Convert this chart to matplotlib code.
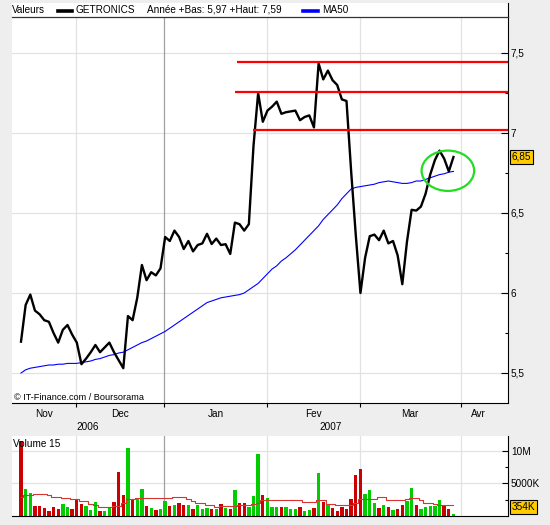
import matplotlib
matplotlib.use('Agg')
import matplotlib.pyplot as plt
from matplotlib.lines import Line2D
from matplotlib.patches import Ellipse
import numpy as np

plt.rcParams['font.family'] = ['Liberation Sans', 'DejaVu Sans']

# ---------------- data (daily closes, trading-day index) ----------------
price = [5.696, 5.925, 5.99, 5.89, 5.867, 5.83, 5.82, 5.75, 5.69, 5.77,
         5.80, 5.74, 5.69, 5.555, 5.59, 5.63, 5.675, 5.63, 5.66, 5.69,
         5.63, 5.58, 5.53, 5.856, 5.83, 5.97, 6.175, 6.08, 6.13, 6.11,
         6.154, 6.35, 6.325, 6.39, 6.35, 6.275, 6.325, 6.26, 6.30, 6.31,
         6.37, 6.306, 6.34, 6.30, 6.305, 6.244, 6.44, 6.43, 6.39, 6.43,
         6.92, 7.25, 7.07, 7.14, 7.165, 7.196, 7.12, 7.13, 7.135, 7.14,
         7.08, 7.10, 7.11, 7.035, 7.435, 7.335, 7.39, 7.33, 7.30, 7.21,
         7.20, 6.76, 6.36, 6.00, 6.22, 6.355, 6.365, 6.33, 6.39, 6.31,
         6.325, 6.235, 6.055, 6.32, 6.52, 6.515, 6.54, 6.62, 6.74, 6.83,
         6.89, 6.84, 6.76, 6.85]

ma50 = [5.50, 5.52, 5.53, 5.535, 5.54, 5.545, 5.55, 5.55, 5.555, 5.555,
        5.56, 5.56, 5.56, 5.565, 5.57, 5.575, 5.585, 5.59, 5.60, 5.61,
        5.615, 5.625, 5.63, 5.645, 5.66, 5.675, 5.69, 5.70, 5.715, 5.73,
        5.745, 5.76, 5.78, 5.80, 5.82, 5.84, 5.86, 5.88, 5.90, 5.92,
        5.94, 5.95, 5.96, 5.97, 5.975, 5.98, 5.985, 5.99, 6.00, 6.02,
        6.04, 6.06, 6.09, 6.12, 6.15, 6.17, 6.20, 6.22, 6.245, 6.27,
        6.30, 6.33, 6.36, 6.39, 6.42, 6.46, 6.49, 6.52, 6.55, 6.59,
        6.62, 6.65, 6.66, 6.665, 6.67, 6.675, 6.68, 6.69, 6.695, 6.70,
        6.695, 6.69, 6.685, 6.685, 6.69, 6.70, 6.70, 6.71, 6.72, 6.73,
        6.74, 6.745, 6.755, 6.76]

volume_m = [11.5, 4.13, 3.5, 1.53, 1.53, 1.18, 0.76, 1.38, 1.07, 1.83,
            1.43, 1.07, 2.6, 1.83, 1.53, 0.92, 2.14, 0.76, 0.76, 1.27,
            2.14, 6.78, 3.21, 10.45, 2.6, 2.75, 4.13, 1.53, 1.27, 0.92,
            1.07, 2.3, 1.53, 1.68, 2.0, 1.68, 1.68, 1.07, 1.68, 1.07,
            1.18, 1.07, 1.07, 1.83, 1.18, 1.07, 3.98, 2.0, 2.0, 1.38,
            3.06, 9.48, 3.21, 2.75, 1.38, 1.38, 1.38, 1.38, 1.07, 1.07,
            1.38, 0.76, 0.92, 1.22, 6.57, 2.14, 1.68, 1.22, 0.76, 1.38,
            1.07, 2.6, 6.27, 7.19, 3.37, 3.98, 2.0, 1.22, 1.68, 1.38,
            0.92, 1.07, 1.68, 2.3, 4.28, 1.68, 1.07, 1.38, 1.53, 1.53,
            2.45, 1.53, 1.07, 0.354]

volume_ma15_m = [2.95, 3.2, 3.2, 3.36, 3.36, 3.36, 3.2, 2.9, 2.9, 2.75,
                 2.75, 2.6, 2.6, 2.3, 2.3, 1.9, 1.68, 1.38, 1.38, 1.38,
                 1.53, 1.53, 2.0, 2.6, 2.6, 2.75, 2.75, 2.75, 2.75, 2.75,
                 2.75, 2.75, 2.75, 2.9, 2.9, 2.9, 2.6, 2.3, 2.0, 2.0,
                 1.68, 1.68, 1.38, 1.53, 1.53, 1.53, 1.53, 1.68, 1.68, 1.68,
                 1.83, 2.0, 2.4, 2.4, 2.4, 2.4, 2.4, 2.4, 2.4, 2.4,
                 2.4, 2.14, 2.14, 2.2, 2.4, 2.4, 1.83, 1.83, 1.68, 1.68,
                 1.68, 1.68, 2.0, 2.6, 2.6, 2.6, 2.6, 2.9, 2.9, 2.45,
                 2.45, 2.45, 2.45, 2.6, 2.75, 2.75, 2.45, 2.0, 2.0, 1.83,
                 1.68, 1.68, 1.68, 1.68]

month_edges = [11.8, 30.8, 52.8, 72.8, 94.7]
year_edge = 30.8
month_labels = ['Nov', 'Dec', 'Jan', 'Fev', 'Mar', 'Avr']
month_label_pos = [4.9, 21.3, 41.8, 62.8, 83.7, 98.4]
year_labels = ['2006', '2007']
year_label_pos = [14.4, 66.5]

price_ticks = [5.5, 6.0, 6.5, 7.0, 7.5]
price_tick_labels = ['5,5', '6', '6,5', '7', '7,5']
price_minor = [5.75, 6.25, 6.75, 7.25]
vol_ticks = [5, 10]
vol_tick_labels = ['5000K', '10M']
vol_minor = [2.5, 7.5]

resist_levels = [7.446, 7.258, 7.019]
resist_start = [46.4, 46.0, 49.9]
circle_center = (91.8, 6.764)
circle_size = (11.3, 0.252)

header_name = 'GETRONICS'
header_info = 'Année +Bas: 5,97 +Haut: 7,59'

# ---------------- layout helpers ----------------
W, H = 550, 525
def fx(px):
    return px / W
def fy(py):
    return 1 - py / H

BG = '#eeeeee'
GRID = '#e2e2e2'
YEARGRID = '#a0a0a0'
FS = 7.2

fig = plt.figure(figsize=(W / 100, H / 100), dpi=100, facecolor=BG)
x = np.arange(len(price))
xlim = (-1.935, 104.73)

# header
hax = fig.add_axes([fx(12), fy(17), fx(508) - fx(12), fy(3) - fy(17)])
hax.set_facecolor('white')
hax.set_xticks([]); hax.set_yticks([])
for s in ['left', 'top', 'bottom']:
    hax.spines[s].set_visible(False)
hax.spines['right'].set_color('black')
fig.text(fx(12), fy(10), 'Valeurs', va='center', ha='left', fontsize=FS)
fig.add_artist(Line2D([fx(58), fx(72)], [fy(10.5), fy(10.5)], lw=2.6, color='black'))
fig.text(fx(75), fy(10), header_name, va='center', ha='left', fontsize=FS)
fig.text(fx(147), fy(10), header_info, va='center', ha='left', fontsize=FS)
fig.add_artist(Line2D([fx(303), fx(318)], [fy(10.5), fy(10.5)], lw=2.6, color='#0000ff'))
fig.text(fx(322), fy(10), 'MA50', va='center', ha='left', fontsize=FS)

# main price axes
ax = fig.add_axes([fx(12), fy(403), fx(508) - fx(12), fy(17) - fy(403)])
ax.set_facecolor('white')
ax.set_xlim(*xlim)
ax.set_ylim(5.3125, 7.725)
for v in price_ticks:
    ax.axhline(v, color=GRID, lw=0.9, zorder=0)
for e in month_edges:
    ax.axvline(e, color=YEARGRID if e == year_edge else GRID, lw=0.9, zorder=0)

ax.plot(x, ma50, color='#0000ff', lw=0.8, zorder=2)
ax.plot(x, price, color='black', lw=1.7, zorder=3)
for lvl, st in zip(resist_levels, resist_start):
    ax.hlines(lvl, st, xlim[1], color='#ff0000', lw=1.6, zorder=4)
ax.add_patch(Ellipse(circle_center, circle_size[0], circle_size[1], fill=False,
                     ec='#22dd22', lw=1.6, zorder=5))

ax.spines['left'].set_visible(False)
ax.spines['top'].set_color('#333333')
ax.spines['top'].set_linewidth(0.9)
ax.spines['right'].set_color('black')
ax.spines['bottom'].set_color('black')

ax.yaxis.tick_right()
ax.set_yticks(price_ticks)
ax.set_yticklabels(price_tick_labels)
ax.set_yticks(price_minor, minor=True)
ax.tick_params(axis='y', which='major', direction='in', length=5, width=0.8,
               pad=2, labelsize=FS, right=True, left=False)
ax.tick_params(axis='y', which='minor', direction='in', length=2.5, width=0.8,
               right=True, left=False)

ax.set_xticks(month_edges)
ax.set_xticklabels([])
ax.set_xticks(month_label_pos, minor=True)
ax.set_xticklabels(month_labels, minor=True)
ax.tick_params(axis='x', which='major', direction='out', length=3, width=0.8)
ax.tick_params(axis='x', which='minor', length=0, pad=4.5, labelsize=FS)
for pos, lab in zip(year_label_pos, year_labels):
    ax.annotate(lab, xy=(pos, 0), xycoords=('data', 'axes fraction'),
                xytext=(0, -13.5), textcoords='offset points', ha='center',
                va='top', fontsize=FS, annotation_clip=False)

ax.annotate('© IT-Finance.com / Boursorama', xy=(0, 0), xycoords='axes fraction',
            xytext=(1.5, 4.3), textcoords='offset points', ha='left', va='center',
            fontsize=6.6)

last_txt = f"{price[-1]:.2f}".replace('.', ',')
ax.annotate(last_txt, xy=(1, price[-1]), xycoords=('axes fraction', 'data'),
            xytext=(2.5, 0), textcoords='offset points', ha='left', va='center',
            fontsize=FS, annotation_clip=False,
            bbox=dict(boxstyle='square,pad=0.18', fc='#ffcc00', ec='black', lw=0.8))

# volume axes
vax = fig.add_axes([fx(12), fy(516), fx(508) - fx(12), fy(436) - fy(516)])
vax.set_facecolor('white')
vax.set_xlim(*xlim)
vax.set_ylim(0, 12.3)
for v in vol_ticks:
    vax.axhline(v, color=GRID, lw=0.9, zorder=0)
for e in month_edges:
    vax.axvline(e, color=YEARGRID if e == year_edge else GRID, lw=0.9, zorder=0)

colors = ['#cc0000'] + ['#00cc00' if price[i] > price[i - 1] else '#cc0000'
                        for i in range(1, len(price))]
vax.bar(x, volume_m, width=0.72, color=colors, zorder=2)
vax.plot(x, volume_ma15_m, drawstyle='steps-mid', color='#d93333', lw=0.8, zorder=3)

vax.spines['left'].set_visible(False)
vax.spines['top'].set_visible(False)
vax.spines['right'].set_color('black')
vax.spines['bottom'].set_color('black')
vax.set_xticks([])
vax.yaxis.tick_right()
vax.set_yticks(vol_ticks)
vax.set_yticklabels(vol_tick_labels)
vax.set_yticks(vol_minor, minor=True)
vax.tick_params(axis='y', which='major', direction='in', length=4.5, width=0.8,
                pad=2, labelsize=FS, right=True, left=False)
vax.tick_params(axis='y', which='minor', direction='in', length=2.5, width=0.8,
                right=True, left=False)

vax.annotate('Volume 15', xy=(0, 1), xycoords='axes fraction', xytext=(1, -6),
             textcoords='offset points', ha='left', va='center', fontsize=FS)
vol_txt = f"{int(round(volume_m[-1] * 1000))}K"
vax.annotate(vol_txt, xy=(1, 0), xycoords='axes fraction', xytext=(2.5, 6.5),
             textcoords='offset points', ha='left', va='center', fontsize=FS,
             annotation_clip=False,
             bbox=dict(boxstyle='square,pad=0.18', fc='#ffcc00', ec='black', lw=0.8))

fig.savefig('out.png', dpi=100, facecolor=fig.get_facecolor())
